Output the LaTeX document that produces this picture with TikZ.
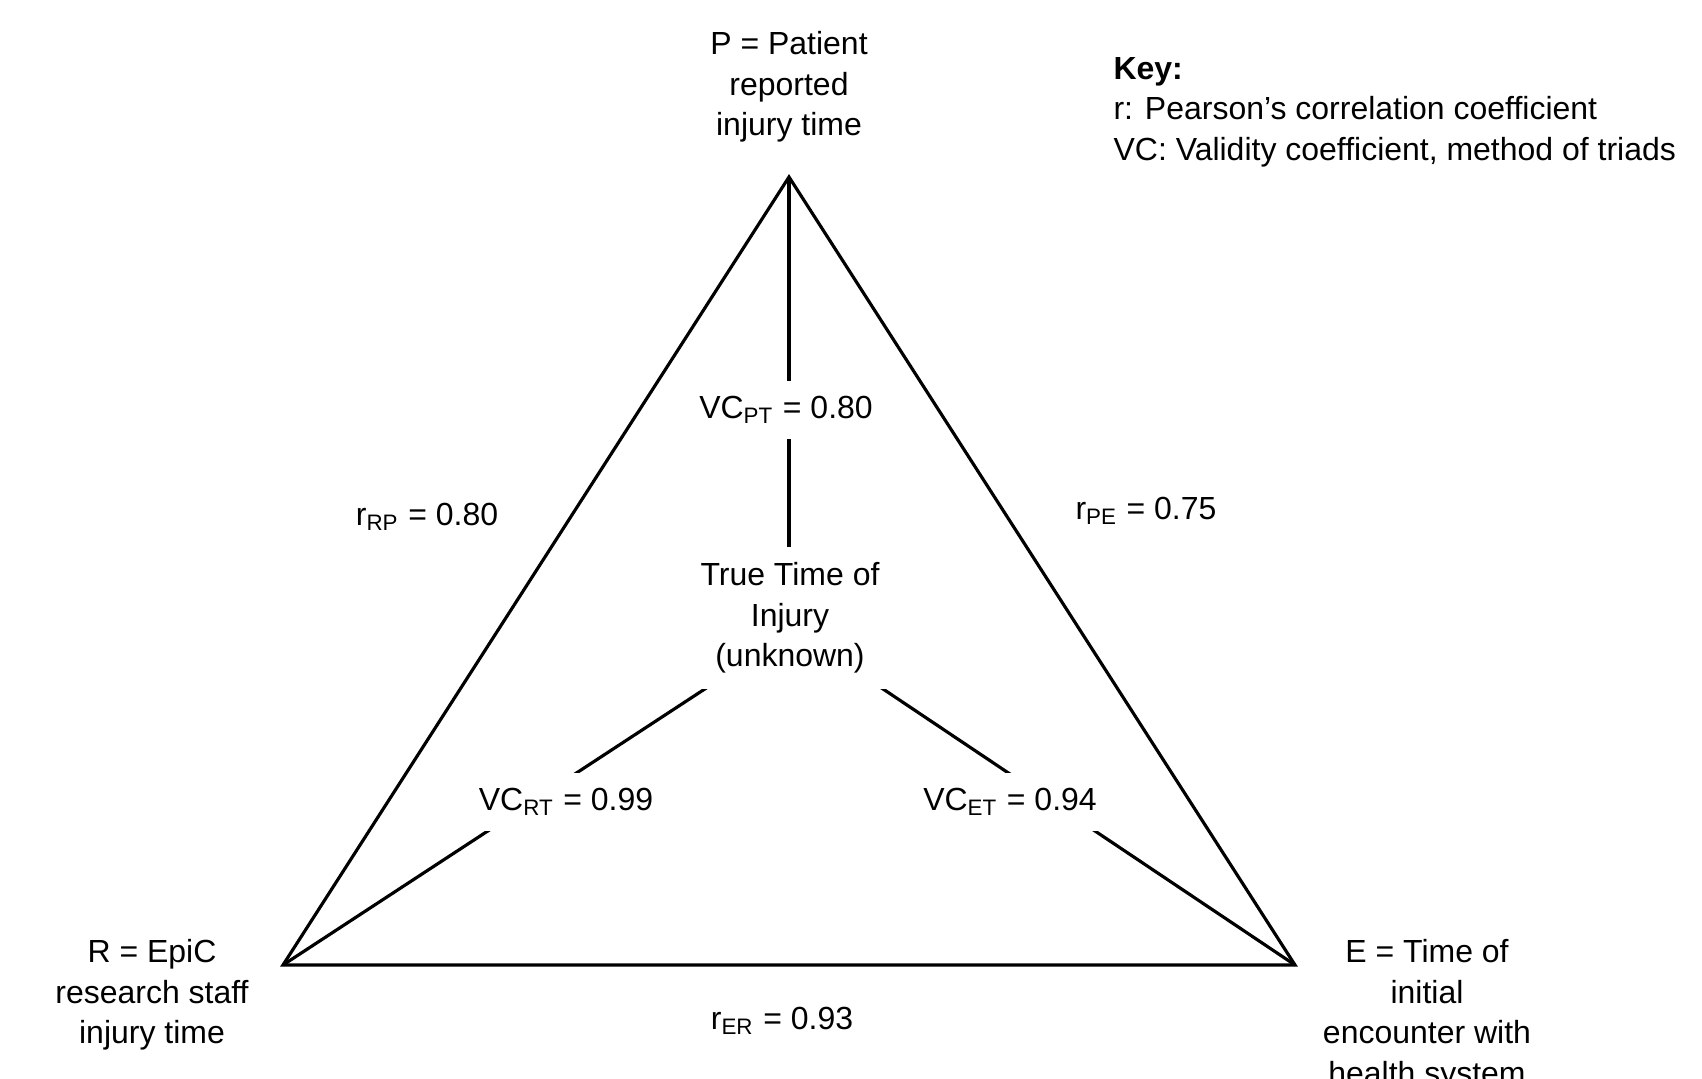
\documentclass[tikz,border=0pt]{standalone}
\usepackage{fontspec}
\setmainfont{Liberation Sans}
\usetikzlibrary{positioning}

\begin{document}
\begin{tikzpicture}[line width=0.9pt, line join=miter,
    every node/.style={font=\fontsize{9.1}{11.5}\selectfont, align=center},
    vc/.style={fill=white, inner sep=4.5pt}]
    \useasboundingbox (0,0) rectangle (17.02,10.79);

    \coordinate (r) at (2.83,1.14);
    \coordinate [right=10.12cm of r] (e);
    \coordinate (p) at (7.89,9.02);
    \coordinate (o) at (7.95,4.49);

    \draw (p) -- (r) -- (e) -- cycle;
    \draw (p) -- (p |- o);
    \draw (r) -- (o);
    \draw (e) -- (o);

    \node [vc] (t) at (7.90,4.61) {True Time of\\Injury\\(unknown)};
    \node [vc] (vpt) at (7.86,6.69) {VC\textsubscript{PT} = 0.80};
    \node [vc] (vrt) at (5.66,2.77) {VC\textsubscript{RT} = 0.99};
    \node [vc] (vet) at (10.10,2.77) {VC\textsubscript{ET} = 0.94};

    \node (rrp) at (4.27,5.62) {r\textsubscript{RP} = 0.80};
    \node (rpe) at (11.46,5.68) {r\textsubscript{PE} = 0.75};
    \node (rer) at (7.82,0.58) {r\textsubscript{ER} = 0.93};

    \node [anchor=north, inner sep=0pt] (pl) at (7.89,10.49) {P = Patient\\reported\\injury time};
    \node [anchor=north, inner sep=0pt] (rl) at (1.52,1.41) {R = EpiC\\research staff\\injury time};
    \node [anchor=north, inner sep=0pt] (el) at (14.27,1.41) {E = Time of\\initial\\encounter with\\health system};

    \node [anchor=north west, align=left, inner sep=0pt] (key) at (11.12,10.23)
        {\textbf{Key:}\\r: Pearson’s correlation coefficient\\VC: Validity coefficient, method of triads};
\end{tikzpicture}
\end{document}
